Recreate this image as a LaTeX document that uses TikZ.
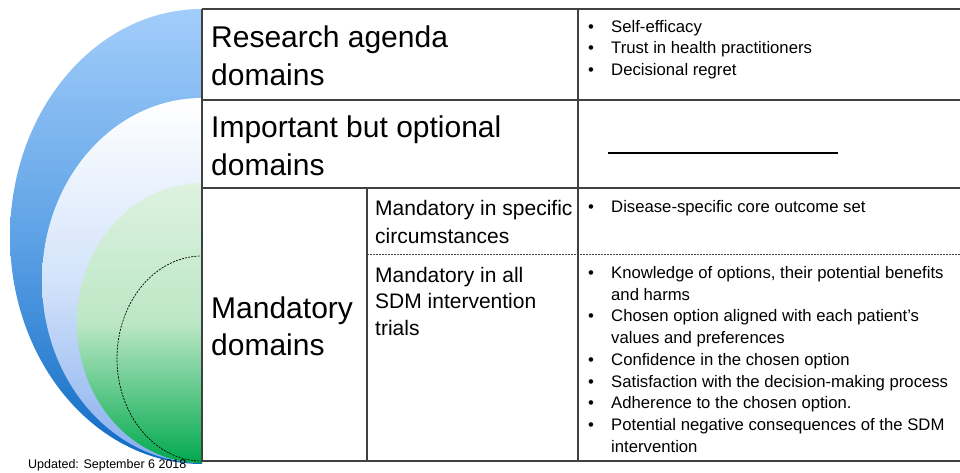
\documentclass[tikz,border=0pt]{standalone}
\usepackage{fontspec}
\setmainfont{Liberation Sans}

\definecolor{gridline}{HTML}{404040}
\definecolor{outertop}{HTML}{A2CDFA}
\definecolor{outermid}{HTML}{5EA2E6}
\definecolor{outerbot}{HTML}{0E6AC3}
\definecolor{midtop}{HTML}{FFFFFF}
\definecolor{midmid}{HTML}{D3E3FA}
\definecolor{midbot}{HTML}{86AEEE}
\definecolor{greentop}{HTML}{DDF2E0}
\definecolor{greenmid}{HTML}{BCE7C5}
\definecolor{greenbot}{HTML}{00A94E}

\tikzset{
  domtext/.style={anchor=base west, inner sep=0pt, font=\fontsize{30}{36}\selectfont},
  subtext/.style={anchor=base west, inner sep=0pt, font=\fontsize{21}{26}\selectfont},
  itemtext/.style={anchor=base west, inner sep=0pt, font=\fontsize{16.7}{21}\selectfont},
  bulletmark/.style={itemtext},
  tabline/.style={draw=gridline, line width=1.5pt},
}

\begin{document}
\begin{tikzpicture}[x=1pt,y=-1pt]

\useasboundingbox (0,0) rectangle (960,472);

%Nested bubbles
\begin{scope}
\clip (0,0) rectangle (202,472);
\path[top color=outertop, bottom color=outerbot, middle color=outermid]
	(202,236.5) ellipse [x radius=192, y radius=227.5];
\path[top color=midtop, bottom color=midbot, middle color=midmid]
	(202,280.5) ellipse [x radius=160, y radius=182.5];
\path[top color=greentop, bottom color=greenbot, middle color=greenmid]
	(202,323) ellipse [x radius=125, y radius=140];
\draw[dash pattern=on 2pt off 1.2pt, line width=0.7pt]
	(202,358.5) ellipse [x radius=85, y radius=102.5];
\end{scope}

\node [anchor=base west, inner sep=0pt, font=\fontsize{12.5}{15}\selectfont]  (updated)at (28,468) {Updated: September 6 2018};


%Table frame
\draw[tabline] (202,9) -- (960,9);
\draw[tabline] (202,100) -- (960,100);
\draw[tabline] (202,188) -- (960,188);
\draw[tabline] (202,461) -- (960,461);
\draw[tabline] (202,9) -- (202,461);
\draw[tabline] (578,9) -- (578,461);
\draw[tabline] (367,188) -- (367,461);
\draw[draw=gridline, line width=1pt, dash pattern=on 2pt off 1pt] (367,254) -- (960,254);



%Research agenda row
\node [domtext]  (ratext)at (211,47) {Research agenda};
\node [domtext]  (ratext2)at (211,85) {domains};

\node [bulletmark]  (rab1)at (588,32) {•};
\node [itemtext]  (raitem1)at (611,32) {Self-efficacy};
\node [bulletmark]  (rab2)at (588,53.5) {•};
\node [itemtext]  (raitem2)at (611,53.5) {Trust in health practitioners};
\node [bulletmark]  (rab3)at (588,75) {•};
\node [itemtext]  (raitem3)at (611,75) {Decisional regret};


%Optional row
\node [domtext]  (optext)at (211,137) {Important but optional};
\node [domtext]  (optext2)at (211,175) {domains};

\draw[line width=1.5pt] (608,153) -- (838,153);


%Mandatory rows
\node [domtext]  (mdtext)at (211,318) {Mandatory};
\node [domtext]  (mdtext2)at (211,355) {domains};

\node [subtext]  (spectext)at (375,215) {Mandatory in specific};
\node [subtext]  (spectext2)at (375,243) {circumstances};

\node [bulletmark]  (specb1)at (588,212) {•};
\node [itemtext]  (specitem1)at (611,212) {Disease-specific core outcome set};

\node [subtext]  (alltext)at (375,282) {Mandatory in all};
\node [subtext]  (alltext2)at (375,308.5) {SDM intervention};
\node [subtext]  (alltext3)at (375,335) {trials};

\node [bulletmark]  (allb1)at (588,278) {•};
\node [itemtext]  (allitem1)at (611,278) {Knowledge of options, their potential benefits};
\node [itemtext]  (allitem1b)at (611,300) {and harms};
\node [bulletmark]  (allb2)at (588,321.5) {•};
\node [itemtext]  (allitem2)at (611,321.5) {Chosen option aligned with each patient’s};
\node [itemtext]  (allitem2b)at (611,343) {values and preferences};
\node [bulletmark]  (allb3)at (588,365) {•};
\node [itemtext]  (allitem3)at (611,365) {Confidence in the chosen option};
\node [bulletmark]  (allb4)at (588,387) {•};
\node [itemtext]  (allitem4)at (611,387) {Satisfaction with the decision-making process};
\node [bulletmark]  (allb5)at (588,408.5) {•};
\node [itemtext]  (allitem5)at (611,408.5) {Adherence to the chosen option.};
\node [bulletmark]  (allb6)at (588,430) {•};
\node [itemtext]  (allitem6)at (611,430) {Potential negative consequences of the SDM};
\node [itemtext]  (allitem6b)at (611,452) {intervention};

\end{tikzpicture}
\end{document}
